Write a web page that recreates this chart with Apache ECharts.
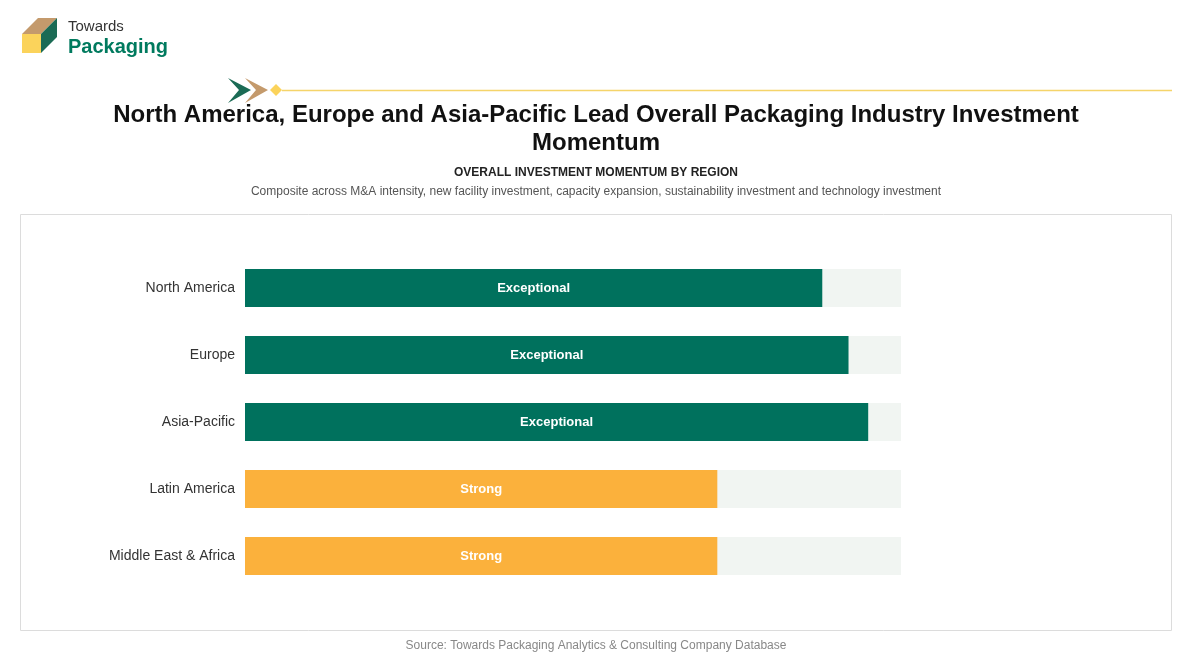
<!DOCTYPE html>
<html>
<head>
<meta charset="utf-8">
<script src="https://cdn.jsdelivr.net/npm/echarts@6/dist/echarts.min.js"></script>
<style>
  html, body { margin: 0; padding: 0; background: #fff; }
  #main { width: 1192px; height: 664px; }
</style>
</head>
<body>
<div id="main"></div>
<script>
// regions and composite momentum scores (0-100)
var regions = ['North America', 'Europe', 'Asia-Pacific', 'Latin America', 'Middle East & Africa'];
var scores = [88, 92, 95, 72, 72];
var tiers = ['Exceptional', 'Exceptional', 'Exceptional', 'Strong', 'Strong'];
var tierColors = { Exceptional: '#00715D', Strong: '#FBB13C' };

var font = '"Liberation Sans", Arial, sans-serif';
var myChart = echarts.init(document.getElementById('main'));

myChart.setOption({
    animation: false,
    textStyle: { fontFamily: font },
    graphic: [
        // card
        { type: 'rect', shape: { x: 20.5, y: 214.5, width: 1151, height: 416 },
          style: { fill: '#fff', stroke: '#dcdcdc', lineWidth: 1 }, z: -10 },
        // logo cube
        { type: 'polygon', shape: { points: [[22, 34], [41, 34], [57, 18], [38, 18]] }, style: { fill: '#C49A6C' } },
        { type: 'polygon', shape: { points: [[41, 34], [57, 18], [57, 37], [41, 53]] }, style: { fill: '#1B6B55' } },
        { type: 'rect', shape: { x: 22, y: 34, width: 19, height: 19 }, style: { fill: '#FBD35B' } },
        { type: 'text', x: 68, y: 27, style: { text: 'Towards', font: '15px ' + font, fill: '#333', verticalAlign: 'middle' } },
        { type: 'text', x: 68, y: 47, style: { text: 'Packaging', font: 'bold 20px ' + font, fill: '#007A5E', verticalAlign: 'middle' } },
        // decoration
        { type: 'polygon', shape: { points: [[228, 78], [251, 90], [228, 103], [239, 90]] }, style: { fill: '#1B6B55' } },
        { type: 'polygon', shape: { points: [[245, 78], [268, 90], [245, 103], [256, 90]] }, style: { fill: '#C49A6C' } },
        { type: 'line', shape: { x1: 282, y1: 90.5, x2: 1172, y2: 90.5 }, style: { stroke: '#F5D46A', lineWidth: 1.5 } },
        { type: 'polygon', shape: { points: [[276, 84], [282, 90], [276, 96], [270, 90]] }, style: { fill: '#FBD35B' } },
        // titles
        { type: 'text', x: 596, y: 115, style: { text: 'North America, Europe and Asia-Pacific Lead Overall Packaging Industry Investment',
            font: 'bold 24px ' + font, fill: '#111', align: 'center', verticalAlign: 'middle' } },
        { type: 'text', x: 596, y: 143, style: { text: 'Momentum',
            font: 'bold 24px ' + font, fill: '#111', align: 'center', verticalAlign: 'middle' } },
        { type: 'text', x: 596, y: 173, style: { text: 'OVERALL INVESTMENT MOMENTUM BY REGION',
            font: 'bold 12px ' + font, fill: '#222', align: 'center', verticalAlign: 'middle' } },
        { type: 'text', x: 596, y: 192, style: { text: 'Composite across M&A intensity, new facility investment, capacity expansion, sustainability investment and technology investment',
            font: '12px ' + font, fill: '#555', align: 'center', verticalAlign: 'middle' } },
        { type: 'text', x: 596, y: 646, style: { text: 'Source: Towards Packaging Analytics & Consulting Company Database',
            font: '12px ' + font, fill: '#888', align: 'center', verticalAlign: 'middle' } }
    ],
    grid: { left: 245, right: 291, top: 254.5, bottom: 74.5, containLabel: false },
    xAxis: {
        type: 'value', min: 0, max: 100, show: false
    },
    yAxis: {
        type: 'category', data: regions, inverse: true,
        axisLine: { show: false }, axisTick: { show: false },
        axisLabel: { color: '#333', fontSize: 14, margin: 10, fontFamily: font }
    },
    series: [{
        type: 'bar',
        barWidth: 38,
        showBackground: true,
        backgroundStyle: { color: '#F1F5F2' },
        data: scores.map(function (v, i) {
            return { value: v, itemStyle: { color: tierColors[tiers[i]] } };
        }),
        label: {
            show: true, position: 'inside', color: '#fff', fontWeight: 'bold', fontSize: 13,
            fontFamily: font,
            formatter: function (p) { return tiers[p.dataIndex]; }
        }
    }]
});
</script>
</body>
</html>
